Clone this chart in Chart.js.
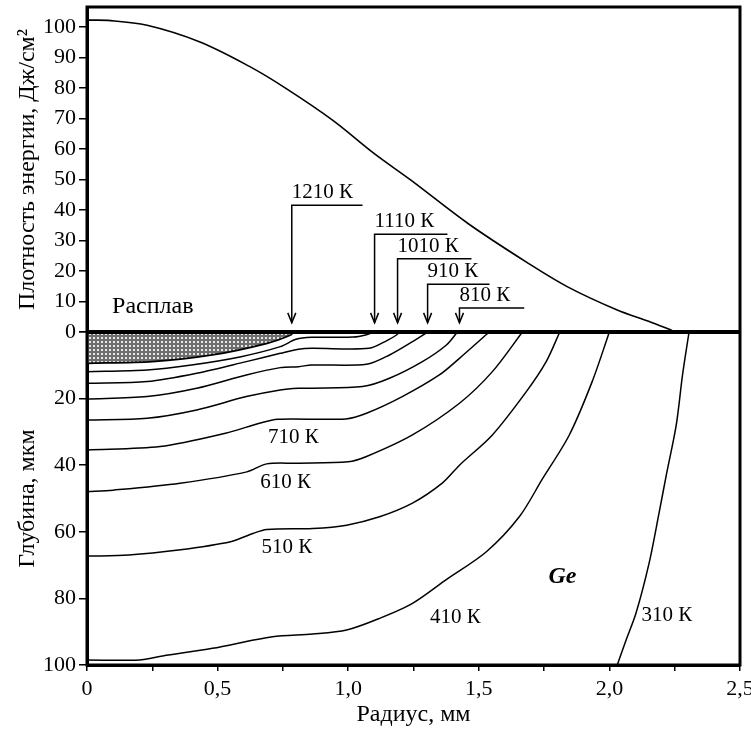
<!DOCTYPE html>
<html>
<head>
<meta charset="utf-8">
<script src="https://cdn.jsdelivr.net/npm/chart.js@4"></script>
<style>
  html, body { margin: 0; padding: 0; background: #fff; }
</style>
</head>
<body>
<canvas id="chart" width="751" height="731"></canvas>
<script>
// energy density profile (top panel)
const radius = [0, 0.08, 0.23, 0.43, 0.62, 0.76, 0.94, 1.1, 1.24, 1.46, 1.69, 1.84, 2.03, 2.15, 2.24];
const energy = [102.3, 102.2, 100.6, 95.2, 87.2, 80, 69.5, 58.5, 49.8, 35.5, 22.5, 14.8, 7.2, 3.5, 0.5];

// isotherms in the bulk: [radius, depth]
const iso1210 = [[0, 9.4], [0.25, 8.9], [0.48, 6.9], [0.69, 3.4], [0.78, 0.9], [0.79, 0]];
const iso1110 = [[0, 11.9], [0.23, 11.4], [0.4, 9.9], [0.59, 7.4], [0.74, 4.4], [0.8, 2.2], [0.86, 1.6], [1.02, 1.5], [1.07, 0.8], [1.1, 0]];
const iso1010 = [[0, 15.4], [0.23, 14.9], [0.42, 12.4], [0.61, 8.9], [0.74, 6.4], [0.81, 5.2], [0.86, 4.9], [1.08, 4.9], [1.15, 2.5], [1.185, 0.9], [1.196, 0]];
const iso910 = [[0, 20.1], [0.23, 19.4], [0.42, 16.9], [0.61, 12.9], [0.74, 10.7], [0.81, 10.4], [0.86, 9.9], [1.07, 9.7], [1.158, 6.9], [1.246, 2.9], [1.304, 0]];
const iso810 = [[0, 26.4], [0.23, 25.9], [0.42, 23.4], [0.61, 19.4], [0.74, 17.4], [0.81, 16.9], [0.86, 16.9], [1.055, 16.4], [1.158, 13.9], [1.284, 8.9], [1.376, 3.9], [1.418, 0]];
const iso710 = [[0, 35.4], [0.28, 34.4], [0.53, 30.4], [0.66, 27.4], [0.73, 26.2], [0.99, 26.1], [1.07, 24.4], [1.207, 19.4], [1.349, 12.9], [1.426, 7.9], [1.54, 0]];
const iso610 = [[0, 48], [0.1, 47.5], [0.356, 45.4], [0.612, 42], [0.688, 39.6], [0.8, 39.4], [1.0, 39], [1.07, 37.4], [1.246, 30.9], [1.426, 21.4], [1.552, 11.9], [1.667, 0]];
const iso510 = [[0, 67.3], [0.16, 67], [0.35, 65.5], [0.55, 63], [0.635, 60.5], [0.688, 59.3], [0.864, 59], [0.994, 58], [1.12, 55.5], [1.246, 51.4], [1.36, 45.4], [1.426, 40], [1.552, 30.9], [1.682, 17.9], [1.758, 8.9], [1.81, 0]];
const iso410 = [[0, 98.5], [0.2, 98.5], [0.29, 97.3], [0.48, 95], [0.71, 91.5], [0.864, 90.7], [0.994, 89.5], [1.12, 86], [1.246, 81.5], [1.373, 74.5], [1.529, 66], [1.655, 55.5], [1.743, 44.2], [1.846, 31], [1.934, 14.9], [2.0, 0]];
const iso310 = [[2.305, 0], [2.28, 12.9], [2.256, 27.9], [2.218, 42.9], [2.19, 54.4], [2.152, 69.4], [2.102, 84.4], [2.064, 92.5], [2.03, 100]];

// arrows to the surface in the top panel
const arrowLabels = ['1210 К', '1110 К', '1010 К', '910 К', '810 К'];
const arrowR = [0.784, 1.101, 1.189, 1.304, 1.426];
const arrowTop = [41.6, 32.1, 24.0, 15.7, 7.9];
const arrowEnd = [1.055, 1.38, 1.472, 1.541, 1.674];
const arrowTip = 3;

// isotherm labels in the bottom panel
const tempLabels = ['710 К', '610 К', '510 К', '410 К', '310 К'];
const tempR = [0.79, 0.76, 0.765, 1.41, 2.22];
const tempDepth = [31.8, 45.3, 64.6, 85.6, 85];

const xTickLabels = ['0', '0,5', '1,0', '1,5', '2,0', '2,5'];

const SERIF = '"Liberation Serif", "Times New Roman", serif';

function meltPattern() {
  const c = document.createElement('canvas');
  c.width = 4; c.height = 4;
  const g = c.getContext('2d');
  g.fillStyle = '#6e6e6e';
  g.fillRect(0, 0, 4, 4);
  g.fillStyle = '#e6e6e6';
  g.fillRect(1, 1, 2, 2);
  return g.createPattern(c, 'repeat');
}

const toPts = arr => arr.map(p => ({ x: p[0], y: p[1] }));

const datasets = [];

datasets.push({
  data: radius.map((r, i) => ({ x: r, y: energy[i] })),
  yAxisID: 'yE',
  borderColor: '#000',
  borderWidth: 1.6,
  pointRadius: 0,
  tension: 0.35
});

arrowR.forEach((r, i) => {
  datasets.push({
    data: [{ x: r, y: arrowTip }, { x: r, y: arrowTop[i] }, { x: arrowEnd[i], y: arrowTop[i] }],
    yAxisID: 'yE',
    borderColor: '#000',
    borderWidth: 1.5,
    pointRadius: 0,
    tension: 0,
    arrow: true,
    label: arrowLabels[i]
  });
});

datasets.push({
  data: toPts(iso1210),
  yAxisID: 'yD',
  borderColor: '#000',
  borderWidth: 1.8,
  pointRadius: 0,
  tension: 0.3,
  fill: { value: 0 },
  backgroundColor: meltPattern()
});

[iso1110, iso1010, iso910, iso810, iso710, iso610, iso510, iso410, iso310].forEach(iso => {
  datasets.push({
    data: toPts(iso),
    yAxisID: 'yD',
    borderColor: '#000',
    borderWidth: 1.5,
    pointRadius: 0,
    tension: 0.3
  });
});

const framePlugin = {
  id: 'frame',
  afterDraw(chart) {
    const { ctx, chartArea: a, scales } = chart;
    const xs = scales.x, yE = scales.yE, yD = scales.yD;
    ctx.save();
    ctx.strokeStyle = '#000';
    ctx.lineWidth = 3;
    ctx.strokeRect(a.left, a.top, a.right - a.left, a.bottom - a.top);
    const y0 = yE.getPixelForValue(0);
    ctx.lineWidth = 4;
    ctx.beginPath();
    ctx.moveTo(a.left, y0);
    ctx.lineTo(a.right, y0);
    ctx.stroke();

    // arrow heads and labels
    ctx.lineWidth = 1.5;
    ctx.fillStyle = '#000';
    ctx.font = '21px ' + SERIF;
    chart.data.datasets.forEach((ds, i) => {
      if (!ds.arrow) return;
      const pts = chart.getDatasetMeta(i).data;
      const tip = pts[0];
      ctx.beginPath();
      ctx.moveTo(tip.x - 4, tip.y - 10);
      ctx.lineTo(tip.x, tip.y);
      ctx.lineTo(tip.x + 4, tip.y - 10);
      ctx.stroke();
      ctx.textAlign = 'left';
      ctx.textBaseline = 'bottom';
      ctx.fillText(ds.label, pts[1].x, pts[1].y - 2);
    });

    ctx.textAlign = 'center';
    ctx.textBaseline = 'middle';
    tempLabels.forEach((t, i) => {
      ctx.fillText(t, xs.getPixelForValue(tempR[i]), yD.getPixelForValue(tempDepth[i]));
    });

    ctx.font = '24px ' + SERIF;
    ctx.fillText('Расплав', xs.getPixelForValue(0.252), yE.getPixelForValue(8.2));
    ctx.font = 'italic bold 24px ' + SERIF;
    ctx.fillText('Ge', xs.getPixelForValue(1.82), yD.getPixelForValue(73.6));
    ctx.restore();
  }
};

const tickFont = { family: SERIF, size: 22 };
const titleFont = { family: SERIF, size: 24 };

new Chart(document.getElementById('chart'), {
  type: 'line',
  data: { datasets },
  plugins: [framePlugin],
  options: {
    responsive: false,
    animation: false,
    layout: { padding: { top: 7, right: 11, left: 0, bottom: 0 } },
    plugins: { legend: { display: false }, tooltip: { enabled: false } },
    scales: {
      x: {
        type: 'linear',
        min: 0,
        max: 2.5,
        ticks: {
          stepSize: 0.25,
          autoSkip: false,
          maxRotation: 0,
          padding: 5,
          color: '#000',
          font: tickFont,
          callback: v => {
            const k = v / 0.5;
            return Math.abs(k - Math.round(k)) < 1e-6 ? xTickLabels[Math.round(k)] : '';
          }
        },
        grid: { drawOnChartArea: false, tickLength: 6, color: '#000', lineWidth: 1.5 },
        border: { color: '#000', width: 3 },
        title: { display: true, text: 'Радиус, мм', color: '#000', font: titleFont, padding: { top: 0, bottom: 2 } },
        afterFit(s) { s.height = 66; s.paddingLeft = 0; s.paddingRight = 0; }
      },
      yD: {
        type: 'linear',
        position: 'left',
        stack: 'panels',
        stackWeight: 333,
        min: 0,
        max: 100,
        reverse: true,
        ticks: { stepSize: 20, autoSkip: false, color: '#000', font: tickFont, padding: 3, callback: v => (v === 0 ? '' : v) },
        grid: { drawOnChartArea: false, tickLength: 8, color: '#000', lineWidth: 1.5 },
        border: { color: '#000', width: 3 },
        title: { display: true, text: 'Глубина, мкм', color: '#000', font: titleFont, padding: { top: 13, bottom: 0 } },
        afterFit(s) { s.width = 87; s.paddingTop = 0; s.paddingBottom = 0; }
      },
      yE: {
        type: 'linear',
        position: 'left',
        stack: 'panels',
        stackWeight: 325,
        min: 0,
        max: 106.6,
        ticks: { stepSize: 10, autoSkip: false, includeBounds: false, color: '#000', font: tickFont, padding: 3 },
        grid: { drawOnChartArea: false, tickLength: 8, color: '#000', lineWidth: 1.5 },
        border: { color: '#000', width: 3 },
        title: { display: true, text: 'Плотность энергии, Дж/см²', color: '#000', font: titleFont, padding: { top: 13, bottom: 0 } },
        afterFit(s) { s.width = 87; s.paddingTop = 0; s.paddingBottom = 0; }
      }
    }
  }
});
</script>
</body>
</html>
